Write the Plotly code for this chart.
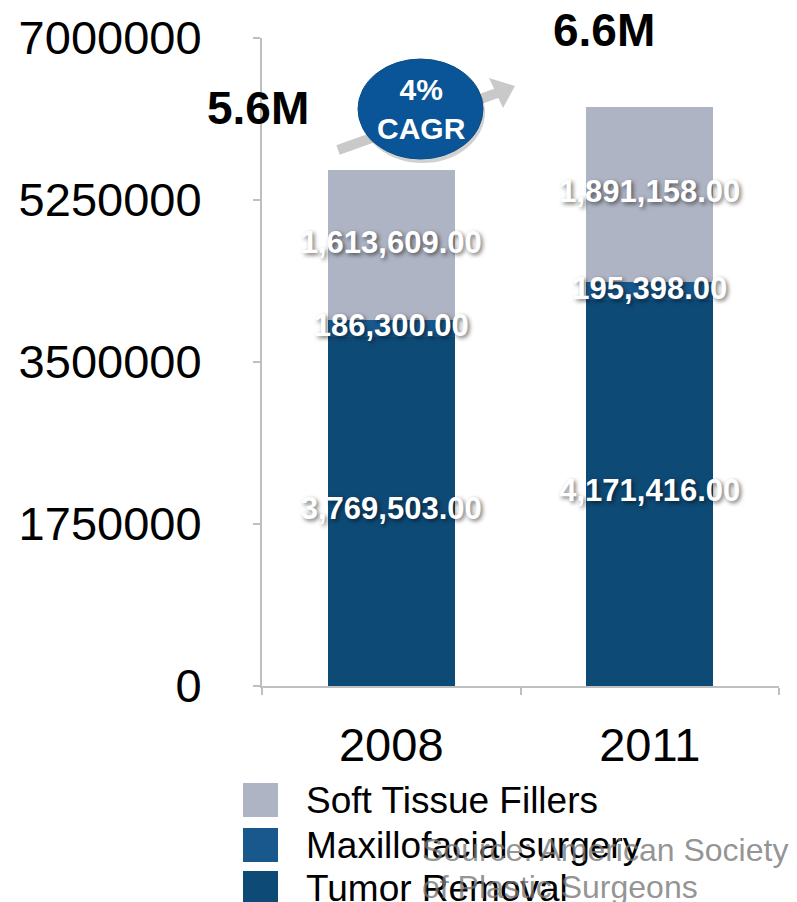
import plotly.graph_objects as go

# ---- data ----
years = ["2008", "2011"]
series_names = ["Tumor Removal", "Maxillofacial surgery", "Soft Tissue Fillers"]
tumor_removal = [3769503, 4171416]
maxillofacial = [186300, 195398]
soft_tissue = [1613609, 1891158]
series_values = [tumor_removal, maxillofacial, soft_tissue]
series_colors = ["#0E4A76", "#18588C", "#AEB4C3"]
y_tickvals = [0, 1750000, 3500000, 5250000, 7000000]
y_ticktext = ["0", "1750000", "3500000", "5250000", "7000000"]
total_labels = ["5.6M", "6.6M"]
cagr_label = "4%<br>CAGR"
source_lines = ["Source: American Society", "of Plastic Surgeons"]

FONT = "Arial, Liberation Sans, sans-serif"
W, H = 797, 902
L, R, T, B = 262, 18, 38, 216
PW, PH = W - L - R, H - T - B


def px(x):
    return (x - L) / PW


def py(y):
    return (H - B - y) / PH


fig = go.Figure()

for name, vals, col in zip(series_names, series_values, series_colors):
    fig.add_trace(go.Bar(x=years, y=vals, name=name, marker_color=col,
                         marker_line_width=0, width=0.49, showlegend=False,
                         hoverinfo="skip"))

# data labels at segment midpoints
base = [0] * len(years)
for vals in series_values:
    mids = [b + v / 2 for b, v in zip(base, vals)]
    fig.add_trace(go.Scatter(
        x=years, y=mids, mode="text", text=[f"{v:,.2f}" for v in vals],
        textposition="middle center", showlegend=False, hoverinfo="skip",
        textfont=dict(family=FONT, size=31, color="white", weight="bold",
                      shadow="2px 2px 4px rgba(0,0,0,0.55)")))
    base = [b + v for b, v in zip(base, vals)]

shapes = []
annotations = []


def ann(x, y, text, font, xanchor="center"):
    annotations.append(dict(xref="paper", yref="paper", x=px(x), y=py(y),
                            xanchor=xanchor, yanchor="middle", text=text,
                            showarrow=False, font=font, align="center"))


# grey growth arrow (shaft + head)
shapes.append(dict(type="line", xref="paper", yref="paper",
                   x0=px(338), y0=py(150), x1=px(500), y1=py(92),
                   line=dict(color="#C9C9C9", width=10), layer="above"))
shapes.append(dict(type="path", xref="paper", yref="paper",
                   path=f"M {px(515)} {py(86)} L {px(489)} {py(78)} L {px(503)} {py(108)} Z",
                   fillcolor="#C9C9C9", line=dict(width=0), layer="above"))
# ellipse shadow + ellipse
shapes.append(dict(type="circle", xref="paper", yref="paper",
                   x0=px(360), x1=px(485), y0=py(62), y1=py(163),
                   fillcolor="rgba(0,0,0,0.18)", line=dict(width=0), layer="above"))
shapes.append(dict(type="circle", xref="paper", yref="paper",
                   x0=px(358), x1=px(483), y0=py(59), y1=py(159),
                   fillcolor="#0A5598", line=dict(color="#0A4C86", width=1), layer="above"))
ann(421, 109, cagr_label, dict(family=FONT, size=30, color="white", weight="bold"))

# total labels
ann(258, 108, total_labels[0], dict(family=FONT, size=46, color="black", weight="bold"))
ann(604, 30, total_labels[1], dict(family=FONT, size=46, color="black", weight="bold"))

# custom legend (reverse order)
row_y = [800, 845, 888]
for i, (name, col) in enumerate(zip(series_names[::-1], series_colors[::-1])):
    yc = row_y[i]
    shapes.append(dict(type="rect", xref="paper", yref="paper",
                       x0=px(243), x1=px(278), y0=py(yc - 17), y1=py(yc + 17),
                       fillcolor=col, line=dict(width=0)))
    ann(304, yc, name, dict(family=FONT, size=37, color="black"), xanchor="left")

# source text
for line_txt, yc in zip(source_lines, [850, 887]):
    ann(420, yc, line_txt, dict(family=FONT, size=32, color="rgba(120,120,120,0.8)"),
        xanchor="left")

fig.update_layout(
    barmode="stack",
    width=W, height=H,
    margin=dict(l=L, r=R, t=T, b=B),
    paper_bgcolor="white", plot_bgcolor="white",
    showlegend=False,
    shapes=shapes, annotations=annotations,
    xaxis=dict(type="category", range=[-0.5, 1.5], showgrid=False,
               automargin=False,
               showline=True, linecolor="#BFBFBF", linewidth=2,
               ticks="outside", tickson="boundaries", ticklen=7,
               tickcolor="#BFBFBF", tickwidth=1.5,
               tickfont=dict(family=FONT, size=47, color="black"),
               ticklabelstandoff=17),
    yaxis=dict(range=[0, 7000000], tickvals=y_tickvals, ticktext=y_ticktext,
               automargin=False,
               showgrid=False, zeroline=False, showline=True,
               linecolor="#BFBFBF", linewidth=2, ticks="outside", ticklen=7,
               tickcolor="#BFBFBF", tickwidth=1.5,
               tickfont=dict(family=FONT, size=47, color="black"),
               ticklabelstandoff=42),
)

fig.write_html("out.html")
